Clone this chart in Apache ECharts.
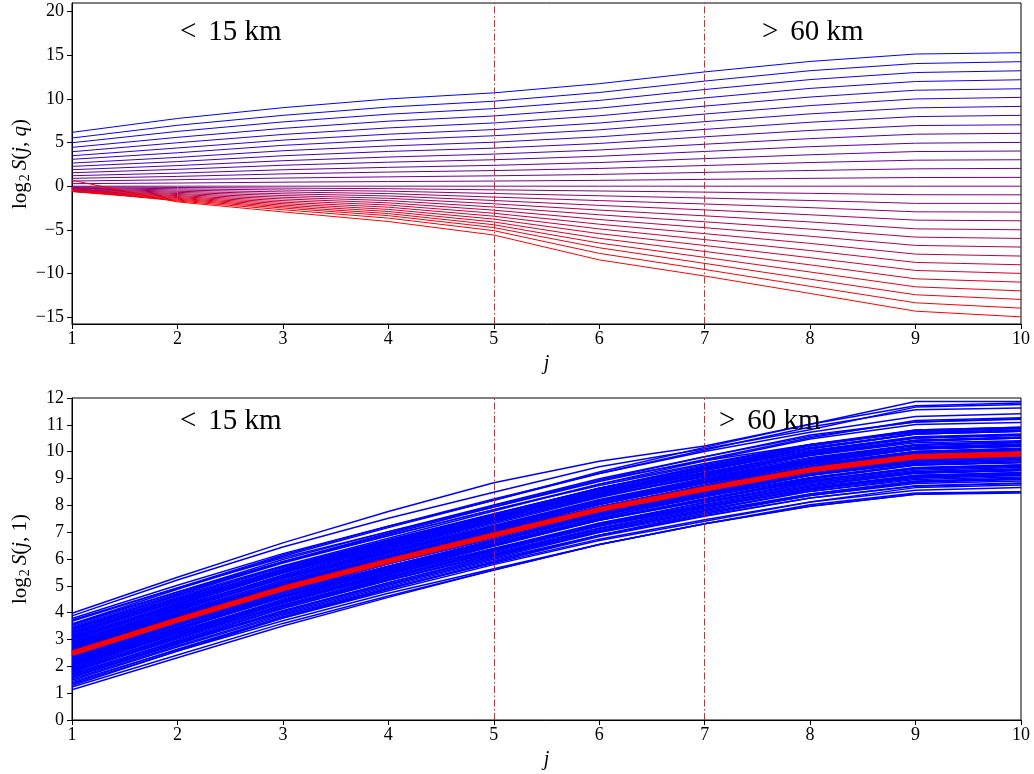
<!DOCTYPE html>
<html>
<head>
<meta charset="utf-8">
<script src="https://cdn.jsdelivr.net/npm/echarts@6/dist/echarts.min.js"></script>
<style>
  html, body { margin: 0; padding: 0; background: #fff; }
  #chart { width: 1034px; height: 774px; }
</style>
</head>
<body>
<div id="chart"></div>
<script>
// Scale index j (octave) shared by both panels
const jScales = [1, 2, 3, 4, 5, 6, 7, 8, 9, 10];

// Scale boundaries marked by dash-dot lines (< 15 km and > 60 km regimes)
const boundaryJ = [5, 7];
const zoneLabels = ['<', '15 km', '>', '60 km'];

// Moment orders q, from q = 3 (blue) down to q = -3 (red)
const qOrders = [3, 2.8, 2.6, 2.4, 2.2, 2, 1.8, 1.6, 1.4, 1.2, 1, 0.8, 0.6, 0.4, 0.2, 0,
  -0.2, -0.4, -0.6, -0.8, -1, -1.2, -1.4, -1.6, -1.8, -2, -2.2, -2.4, -2.6, -2.8, -3];

// log2 S(j, q): one row per q, one value per j
const logSq = [
  [6.17, 7.76, 9.00, 10.00, 10.70, 11.75, 13.10, 14.30, 15.15, 15.30],
  [5.52, 6.98, 8.12, 9.07, 9.74, 10.74, 12.05, 13.24, 14.06, 14.27],
  [4.98, 6.28, 7.37, 8.25, 8.89, 9.83, 11.08, 12.22, 13.03, 13.23],
  [4.45, 5.60, 6.63, 7.45, 8.05, 8.94, 10.12, 11.21, 12.00, 12.20],
  [3.95, 4.98, 5.93, 6.68, 7.25, 8.07, 9.18, 10.22, 11.00, 11.17],
  [3.49, 4.38, 5.28, 5.96, 6.49, 7.24, 8.27, 9.24, 10.00, 10.18],
  [3.08, 3.83, 4.68, 5.30, 5.78, 6.46, 7.40, 8.29, 8.98, 9.15],
  [2.65, 3.30, 4.06, 4.61, 5.04, 5.66, 6.51, 7.33, 7.98, 8.12],
  [2.27, 2.82, 3.49, 3.98, 4.36, 4.90, 5.66, 6.39, 6.95, 7.04],
  [1.89, 2.36, 2.92, 3.34, 3.68, 4.15, 4.81, 5.45, 5.96, 6.06],
  [1.54, 1.93, 2.40, 2.75, 3.03, 3.43, 3.98, 4.53, 4.93, 5.02],
  [1.20, 1.50, 1.88, 2.16, 2.39, 2.71, 3.16, 3.60, 3.97, 4.03],
  [0.90, 1.12, 1.41, 1.62, 1.79, 2.03, 2.37, 2.71, 2.98, 3.03],
  [0.59, 0.74, 0.93, 1.07, 1.19, 1.35, 1.58, 1.80, 1.99, 2.04],
  [0.29, 0.36, 0.46, 0.53, 0.59, 0.67, 0.78, 0.90, 0.99, 1.01],
  [0, 0, 0, 0, 0, 0, 0, 0, 0, 0],
  [-0.08, -0.15, -0.22, -0.29, -0.42, -0.55, -0.68, -0.82, -0.98, -0.99],
  [-0.15, -0.30, -0.44, -0.57, -0.84, -1.10, -1.36, -1.64, -1.97, -1.97],
  [-0.22, -0.44, -0.66, -0.85, -1.25, -1.65, -2.04, -2.46, -2.94, -2.97],
  [-0.28, -0.58, -0.87, -1.12, -1.64, -2.20, -2.72, -3.28, -3.89, -3.97],
  [-0.34, -0.71, -1.07, -1.39, -2.02, -2.74, -3.40, -4.10, -4.89, -5.00],
  [-0.39, -0.84, -1.27, -1.65, -2.39, -3.28, -4.08, -4.92, -5.84, -5.99],
  [-0.44, -0.96, -1.46, -1.91, -2.75, -3.82, -4.76, -5.74, -6.79, -6.98],
  [-0.48, -1.08, -1.65, -2.16, -3.10, -4.36, -5.44, -6.56, -7.79, -8.01],
  [-0.52, -1.19, -1.83, -2.41, -3.44, -4.90, -6.12, -7.38, -8.74, -9.01],
  [-0.55, -1.30, -2.00, -2.66, -3.77, -5.44, -6.80, -8.20, -9.66, -10.00],
  [-0.58, -1.40, -2.17, -2.90, -4.10, -5.98, -7.48, -9.02, -10.62, -11.00],
  [-0.60, -1.50, -2.34, -3.14, -4.42, -6.52, -8.16, -9.84, -11.54, -12.00],
  [-0.62, -1.60, -2.50, -3.38, -4.74, -7.06, -8.85, -10.66, -12.45, -12.98],
  [-0.45, -1.70, -2.70, -3.66, -5.10, -7.70, -9.55, -11.48, -13.37, -13.98],
  [0.68, -1.80, -2.95, -4.05, -5.60, -8.45, -10.30, -12.30, -14.33, -14.98]
];

// Mean of log2 S(j, 1) over all stations
const meanLogS1 = [2.48, 3.72, 4.90, 5.92, 6.89, 7.84, 8.61, 9.32, 9.81, 9.91];

// log2 S(j, 1) for each station
const stationLogS1 = [
  [3.98, 5.32, 6.60, 7.77, 8.84, 9.64, 10.21, 11.02, 11.87, 11.87],
  [3.88, 5.22, 6.45, 7.52, 8.49, 9.44, 10.11, 10.82, 11.66, 11.76],
  [3.78, 5.02, 6.20, 7.22, 8.19, 9.19, 10.06, 10.92, 11.56, 11.63],
  [3.68, 4.92, 6.15, 7.22, 8.24, 9.19, 10.01, 10.72, 11.31, 11.41],
  [3.58, 4.77, 5.90, 6.92, 7.94, 8.94, 9.81, 10.62, 11.11, 11.23],
  [3.48, 4.72, 5.90, 6.87, 7.84, 8.74, 9.51, 10.27, 10.81, 10.91],
  [3.43, 4.62, 5.75, 6.77, 7.79, 8.79, 9.66, 10.47, 11.01, 11.09],
  [3.38, 4.67, 5.90, 6.97, 7.99, 8.94, 9.66, 10.27, 10.71, 10.81],
  [3.33, 4.52, 5.70, 6.72, 7.69, 8.64, 9.41, 10.12, 10.66, 10.76],
  [3.28, 4.47, 5.60, 6.62, 7.59, 8.59, 9.41, 10.22, 10.81, 10.91],
  [3.23, 4.42, 5.55, 6.52, 7.44, 8.34, 9.11, 9.87, 10.41, 10.51],
  [3.18, 4.44, 5.64, 6.68, 7.67, 8.64, 9.43, 10.16, 10.67, 10.79],
  [3.13, 4.32, 5.50, 6.52, 7.54, 8.54, 9.31, 10.02, 10.51, 10.61],
  [3.08, 4.34, 5.54, 6.54, 7.49, 8.42, 9.17, 9.86, 10.33, 10.41],
  [3.03, 4.22, 5.35, 6.37, 7.39, 8.39, 9.21, 9.97, 10.51, 10.63],
  [2.98, 4.22, 5.40, 6.42, 7.39, 8.34, 9.06, 9.72, 10.16, 10.26],
  [2.93, 4.17, 5.40, 6.47, 7.49, 8.44, 9.21, 9.92, 10.41, 10.51],
  [2.88, 4.10, 5.26, 6.26, 7.21, 8.14, 8.91, 9.62, 10.11, 10.21],
  [2.83, 4.07, 5.30, 6.37, 7.39, 8.39, 9.21, 9.97, 10.51, 10.61],
  [2.78, 4.02, 5.20, 6.22, 7.19, 8.14, 8.91, 9.62, 10.11, 10.21],
  [2.73, 3.92, 5.05, 6.02, 6.99, 7.94, 8.76, 9.52, 10.01, 10.11],
  [2.68, 3.94, 5.14, 6.18, 7.17, 8.14, 8.93, 9.66, 10.17, 10.29],
  [2.63, 3.87, 5.00, 6.02, 6.94, 7.89, 8.61, 9.32, 9.81, 9.91],
  [2.58, 3.84, 5.05, 6.12, 7.14, 8.14, 8.96, 9.72, 10.26, 10.36],
  [2.53, 3.77, 4.95, 5.92, 6.89, 7.79, 8.56, 9.22, 9.71, 9.81],
  [2.48, 3.77, 5.00, 6.07, 7.09, 8.04, 8.81, 9.52, 10.01, 10.11],
  [2.43, 3.67, 4.80, 5.82, 6.74, 7.69, 8.41, 9.12, 9.56, 9.66],
  [2.38, 3.62, 4.80, 5.87, 6.89, 7.89, 8.71, 9.47, 10.01, 10.13],
  [2.33, 3.52, 4.65, 5.62, 6.54, 7.44, 8.21, 8.92, 9.41, 9.51],
  [2.28, 3.52, 4.70, 5.72, 6.69, 7.64, 8.41, 9.12, 9.61, 9.71],
  [2.23, 3.52, 4.75, 5.82, 6.84, 7.84, 8.66, 9.42, 9.96, 10.06],
  [2.18, 3.40, 4.56, 5.56, 6.51, 7.44, 8.16, 8.82, 9.26, 9.36],
  [2.13, 3.37, 4.60, 5.62, 6.64, 7.59, 8.41, 9.12, 9.66, 9.76],
  [2.08, 3.32, 4.45, 5.47, 6.39, 7.29, 8.01, 8.67, 9.11, 9.21],
  [2.03, 3.27, 4.50, 5.57, 6.59, 7.54, 8.31, 9.02, 9.51, 9.61],
  [1.98, 3.22, 4.40, 5.42, 6.34, 7.24, 8.01, 8.72, 9.21, 9.31],
  [1.93, 3.22, 4.45, 5.52, 6.54, 7.54, 8.36, 9.12, 9.71, 9.81],
  [1.88, 3.12, 4.25, 5.22, 6.14, 7.04, 7.81, 8.52, 9.01, 9.11],
  [1.83, 3.07, 4.30, 5.32, 6.29, 7.24, 7.96, 8.62, 9.11, 9.21],
  [1.78, 3.02, 4.20, 5.27, 6.29, 7.29, 8.11, 8.87, 9.36, 9.46],
  [1.73, 2.92, 4.05, 5.07, 6.04, 6.99, 7.71, 8.37, 8.81, 8.91],
  [1.68, 2.92, 4.15, 5.22, 6.19, 7.14, 7.91, 8.62, 9.11, 9.21],
  [1.63, 2.87, 4.00, 5.02, 5.99, 6.89, 7.61, 8.27, 8.71, 8.81],
  [1.58, 2.82, 4.05, 5.12, 6.09, 7.04, 7.81, 8.57, 9.06, 9.16],
  [1.48, 2.72, 3.90, 4.92, 5.84, 6.74, 7.46, 8.12, 8.56, 8.66],
  [1.43, 2.62, 3.80, 4.87, 5.89, 6.89, 7.71, 8.42, 8.91, 9.01],
  [1.33, 2.57, 3.70, 4.72, 5.64, 6.54, 7.31, 7.97, 8.41, 8.51],
  [1.23, 2.42, 3.60, 4.62, 5.59, 6.54, 7.31, 8.02, 8.46, 8.51],
  [1.13, 2.32, 3.50, 4.57, 5.59, 6.54, 7.31, 7.97, 8.41, 8.46],
  [2.60, 3.84, 5.02, 6.04, 7.01, 7.96, 8.73, 9.44, 9.93, 10.03],
  [2.40, 3.64, 4.82, 5.84, 6.81, 7.76, 8.53, 9.24, 9.73, 9.83],
  [2.80, 4.07, 5.28, 6.32, 7.31, 8.29, 9.11, 9.87, 10.41, 10.53],
  [2.20, 3.42, 4.60, 5.64, 6.64, 7.62, 8.41, 9.14, 9.66, 9.76],
  [3.38, 4.57, 5.70, 6.67, 7.59, 8.49, 9.23, 9.92, 10.43, 10.55],
  [1.86, 3.17, 4.40, 5.47, 6.47, 7.44, 8.23, 8.97, 9.51, 9.61],
  [3.73, 4.92, 6.05, 7.02, 7.94, 8.89, 9.71, 10.52, 11.16, 11.26],
  [1.28, 2.57, 3.80, 4.82, 5.79, 6.69, 7.41, 8.12, 8.66, 8.76],
  [3.03, 4.30, 5.50, 6.54, 7.54, 8.52, 9.33, 10.10, 10.66, 10.76],
  [2.03, 3.24, 4.38, 5.36, 6.29, 7.22, 7.96, 8.62, 9.06, 9.13],
  [3.58, 4.87, 6.10, 7.17, 8.19, 9.24, 10.16, 11.02, 11.71, 11.81],
  [2.50, 3.74, 4.92, 5.94, 6.91, 7.86, 8.63, 9.34, 9.83, 9.93],
  [2.55, 3.82, 5.02, 6.07, 7.07, 8.04, 8.83, 9.57, 10.09, 10.19],
  [2.36, 3.58, 4.74, 5.74, 6.69, 7.62, 8.36, 9.04, 9.51, 9.61],
  [2.66, 3.88, 5.04, 6.04, 6.99, 7.94, 8.71, 9.44, 9.96, 10.06],
  [2.30, 3.57, 4.78, 5.84, 6.84, 7.84, 8.66, 9.40, 9.93, 10.03],
  [2.75, 4.00, 5.20, 6.24, 7.24, 8.22, 9.01, 9.74, 10.26, 10.36],
  [2.24, 3.46, 4.62, 5.62, 6.57, 7.49, 8.23, 8.90, 9.36, 9.46],
  [2.86, 4.12, 5.32, 6.37, 7.37, 8.34, 9.13, 9.87, 10.39, 10.51],
  [2.15, 3.42, 4.62, 5.67, 6.67, 7.64, 8.43, 9.17, 9.69, 9.81],
  [2.93, 4.14, 5.30, 6.30, 7.25, 8.19, 8.96, 9.70, 10.23, 10.33],
  [2.06, 3.27, 4.42, 5.42, 6.37, 7.29, 8.03, 8.72, 9.19, 9.29],
  [3.00, 4.27, 5.48, 6.52, 7.51, 8.49, 9.29, 10.02, 10.53, 10.63],
  [1.98, 3.24, 4.45, 5.50, 6.49, 7.46, 8.25, 8.98, 9.49, 9.59],
  [3.10, 4.32, 5.48, 6.47, 7.41, 8.34, 9.09, 9.78, 10.26, 10.36],
  [1.90, 3.12, 4.28, 5.28, 6.23, 7.16, 7.91, 8.60, 9.06, 9.16],
  [3.18, 4.40, 5.56, 6.58, 7.57, 8.54, 9.36, 10.12, 10.66, 10.76],
  [1.80, 3.06, 4.26, 5.32, 6.33, 7.32, 8.11, 8.82, 9.31, 9.41],
  [3.26, 4.47, 5.62, 6.62, 7.57, 8.52, 9.31, 10.04, 10.56, 10.66],
  [1.70, 2.96, 4.16, 5.20, 6.17, 7.10, 7.85, 8.52, 8.96, 9.06],
  [1.53, 2.77, 3.95, 4.97, 5.94, 6.89, 7.66, 8.37, 8.86, 8.96],
  [3.43, 4.67, 5.85, 6.87, 7.84, 8.79, 9.56, 10.27, 10.76, 10.86],
  [2.58, 3.77, 4.90, 5.87, 6.81, 7.74, 8.51, 9.24, 9.76, 9.86],
  [2.46, 3.74, 4.96, 6.02, 7.03, 8.02, 8.83, 9.58, 10.11, 10.21],
  [2.70, 3.92, 5.10, 6.12, 7.11, 8.09, 8.89, 9.64, 10.16, 10.27],
  [2.10, 3.36, 4.56, 5.58, 6.54, 7.48, 8.23, 8.92, 9.39, 9.49],
  [2.90, 4.17, 5.40, 6.47, 7.47, 8.44, 9.21, 9.92, 10.43, 10.53],
  [1.86, 3.14, 4.35, 5.40, 6.39, 7.34, 8.09, 8.77, 9.23, 9.33],
  [3.33, 4.54, 5.70, 6.70, 7.67, 8.64, 9.46, 10.22, 10.76, 10.86],
  [1.60, 2.87, 4.08, 5.12, 6.09, 7.02, 7.76, 8.42, 8.89, 8.99],
  [2.78, 3.97, 5.12, 6.12, 7.09, 8.06, 8.86, 9.62, 10.13, 10.23],
  [2.18, 3.44, 4.65, 5.70, 6.69, 7.66, 8.46, 9.22, 9.76, 9.86],
  [3.53, 4.77, 5.98, 7.02, 8.01, 8.99, 9.81, 10.57, 11.11, 11.21],
  [1.38, 2.64, 3.85, 4.90, 5.89, 6.84, 7.59, 8.27, 8.73, 8.83],
  [3.08, 4.34, 5.55, 6.62, 7.64, 8.64, 9.46, 10.22, 10.76, 10.88],
  [2.38, 3.60, 4.78, 5.82, 6.79, 7.72, 8.46, 9.14, 9.61, 9.71]
];

// Tick values
const yTicksTop = [-15, -10, -5, 0, 5, 10, 15, 20];
const yRangeTop = [-15.8, 21];
const yRangeBottom = [0, 12];

const SERIF = '"Liberation Serif", "DejaVu Serif", serif';
const minusSign = v => String(v).replace('-', '\u2212');

// Blue (q = 3) to red (q = -3)
function qColor(i, n) {
  const t = i / (n - 1);
  return 'rgb(' + Math.round(255 * t) + ',0,' + Math.round(255 * (1 - t)) + ')';
}

const toPoints = row => jScales.map((j, k) => [j, row[k]]);

const dashDot = {
  symbol: 'none',
  silent: true,
  animation: false,
  label: { show: false },
  lineStyle: { color: '#ff0000', width: 1, type: [7, 2.5, 1.5, 2.5], opacity: 0.9 },
  data: boundaryJ.map(j => ({ xAxis: j }))
};

function xAxisFor(gridIndex) {
  return {
    gridIndex: gridIndex, type: 'value', min: 1, max: 10, interval: 1,
    axisLine: { show: true, onZero: false, lineStyle: { color: '#000', width: 1 } },
    axisTick: { show: true, inside: false, length: 5, lineStyle: { color: '#000', width: 1 } },
    axisLabel: { color: '#000', fontFamily: SERIF, fontSize: 18, margin: 6 },
    splitLine: { show: false },
    name: 'j', nameLocation: 'middle', nameGap: 30,
    nameTextStyle: { fontFamily: SERIF, fontStyle: 'italic', fontSize: 20, color: '#000' }
  };
}

const series = [];
logSq.forEach((row, i) => {
  series.push({
    type: 'line', xAxisIndex: 0, yAxisIndex: 0,
    name: 'q = ' + qOrders[i],
    data: toPoints(row),
    showSymbol: false, symbol: 'none', silent: true, animation: false,
    lineStyle: { color: qColor(i, logSq.length), width: 1 }
  });
});
series[series.length - 1].markLine = dashDot;

stationLogS1.forEach((row, i) => {
  series.push({
    type: 'line', xAxisIndex: 1, yAxisIndex: 1,
    data: toPoints(row),
    showSymbol: false, symbol: 'none', silent: true, animation: false,
    lineStyle: { color: '#0000ff', width: 1.5 }
  });
});
series[series.length - 1].markLine = dashDot;

series.push({
  type: 'line', xAxisIndex: 1, yAxisIndex: 1, name: 'mean',
  data: toPoints(meanLogS1),
  showSymbol: false, symbol: 'none', silent: true, animation: false,
  lineStyle: { color: '#ff0000', width: 5.5 }
});

function yLabel(x, y, arg) {
  const fs = 21;
  return {
    type: 'text', x: x, y: y, rotation: Math.PI / 2, z: 10,
    style: {
      text: '{r|log}{s|2}{i|S}{r|(}{i|j}{r|, }{a|' + arg + '}{r|)}',
      align: 'center', verticalAlign: 'middle', fill: '#000',
      rich: {
        r: { fontFamily: SERIF, fontSize: fs, fill: '#000', lineHeight: 24 },
        i: { fontFamily: SERIF, fontSize: fs, fontStyle: 'italic', fill: '#000', lineHeight: 24 },
        a: { fontFamily: SERIF, fontSize: fs, fontStyle: arg === 'q' ? 'italic' : 'normal', fill: '#000', lineHeight: 24 },
        s: { fontFamily: SERIF, fontSize: 14, fill: '#000', verticalAlign: 'bottom', lineHeight: 24, padding: [0, 4, 0, 1] }
      }
    }
  };
}

function zoneText(x, y, sym, txt) {
  return {
    type: 'text', x: x, y: y, z: 10,
    style: {
      text: '{o|' + sym + '}{t|' + txt + '}',
      align: 'left', verticalAlign: 'middle',
      rich: {
        o: { fontFamily: SERIF, fontSize: 29, fill: '#000', padding: [0, 12, 0, 0] },
        t: { fontFamily: SERIF, fontSize: 29, fill: '#000' }
      }
    }
  };
}

const option = {
  backgroundColor: '#fff',
  animation: false,
  grid: [
    { left: 72, right: 13, top: 3, height: 321, show: true, borderColor: '#000', borderWidth: 1, backgroundColor: 'transparent' },
    { left: 72, right: 13, top: 398, height: 322, show: true, borderColor: '#000', borderWidth: 1, backgroundColor: 'transparent' }
  ],
  xAxis: [xAxisFor(0), xAxisFor(1)],
  yAxis: [
    {
      gridIndex: 0, type: 'value', min: yRangeTop[0], max: yRangeTop[1],
      axisLine: { show: true, onZero: false, lineStyle: { color: '#000', width: 1 } },
      axisTick: { show: true, inside: false, length: 5, customValues: yTicksTop, lineStyle: { color: '#000' } },
      axisLabel: { customValues: yTicksTop, color: '#000', fontFamily: SERIF, fontSize: 18, margin: 8, formatter: minusSign },
      splitLine: { show: false }
    },
    {
      gridIndex: 1, type: 'value', min: yRangeBottom[0], max: yRangeBottom[1], interval: 1,
      axisLine: { show: true, onZero: false, lineStyle: { color: '#000', width: 1 } },
      axisTick: { show: true, inside: false, length: 5, lineStyle: { color: '#000' } },
      axisLabel: { color: '#000', fontFamily: SERIF, fontSize: 18, margin: 8 },
      splitLine: { show: false }
    }
  ],
  graphic: [
    yLabel(20, 164, 'q'),
    yLabel(20, 559, '1'),
    zoneText(180, 32, zoneLabels[0], zoneLabels[1]),
    zoneText(762, 32, zoneLabels[2], zoneLabels[3]),
    zoneText(180, 421, zoneLabels[0], zoneLabels[1]),
    zoneText(719, 421, zoneLabels[2], zoneLabels[3])
  ],
  series: series
};

const chart = echarts.init(document.getElementById('chart'), null, { renderer: 'canvas' });
chart.setOption(option);
</script>
</body>
</html>
